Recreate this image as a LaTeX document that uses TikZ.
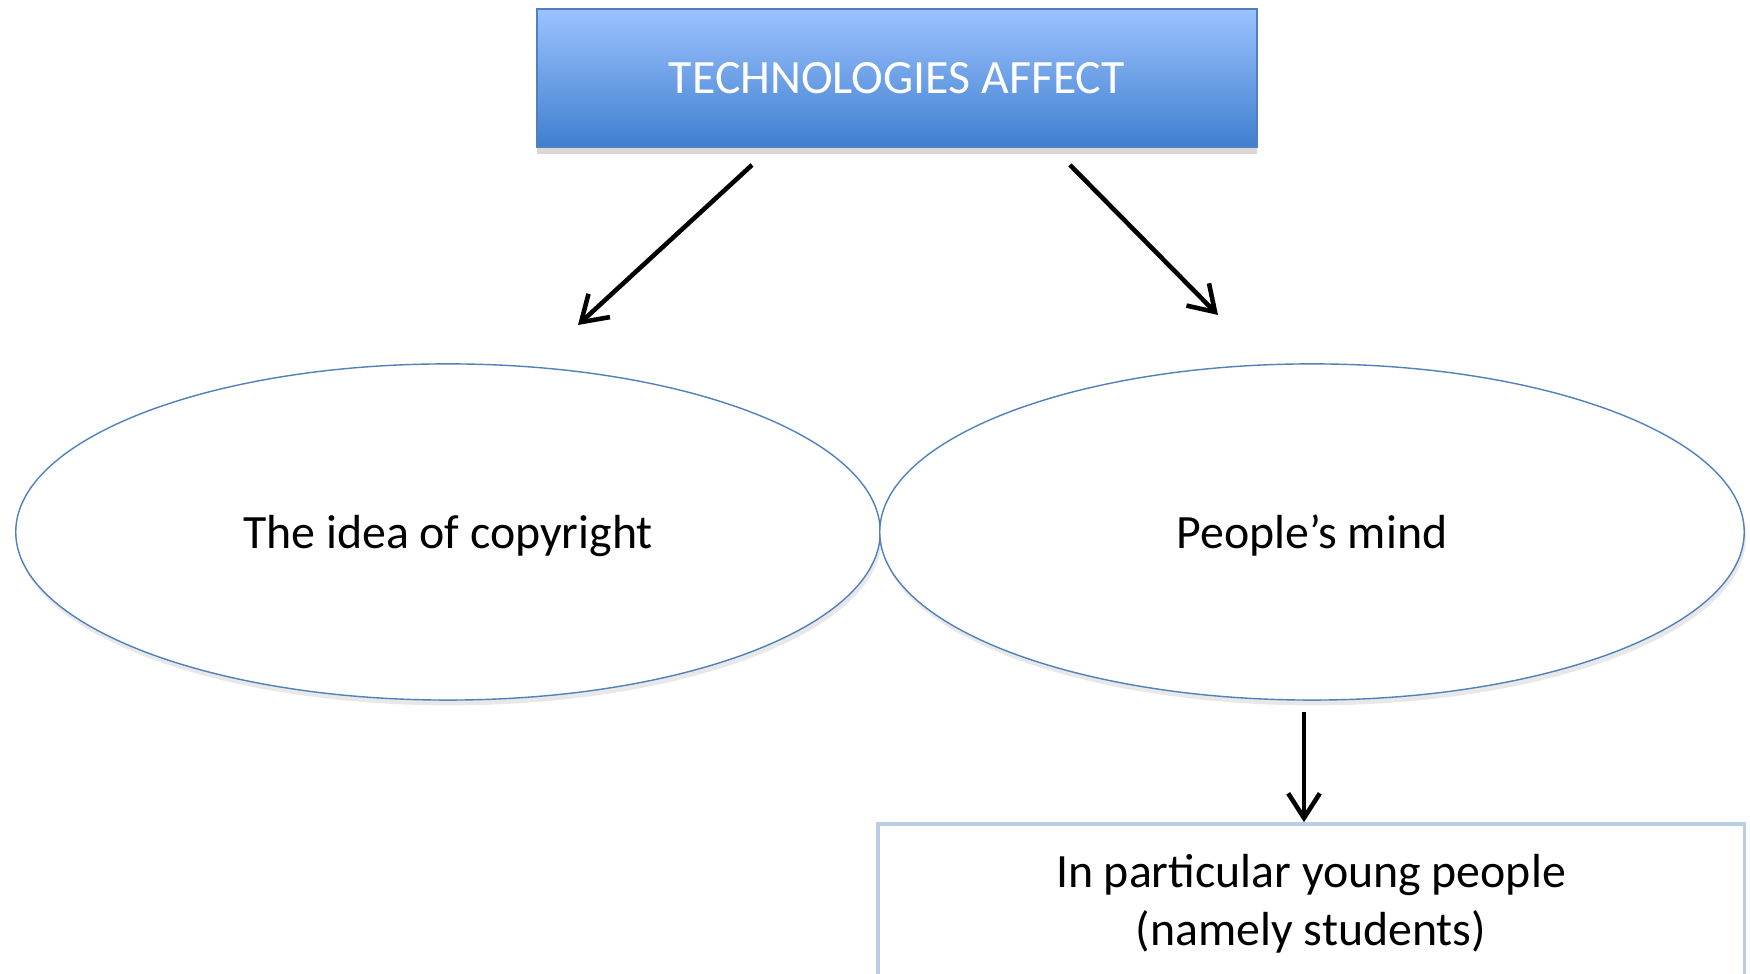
\documentclass[tikz,border=0pt]{standalone}
\usepackage{fontspec}
\setmainfont{Carlito}
\usetikzlibrary{arrows.meta,shadows,shapes.geometric}
\definecolor{boxtop}{HTML}{9CC2FF}
\definecolor{boxbot}{HTML}{3F7FCF}
\definecolor{edgeblue}{HTML}{4F81BD}
\definecolor{paleblue}{HTML}{B9CDE5}
\begin{document}
\begin{tikzpicture}[
        x=0.01cm, y=-0.01cm,
        font=\fontsize{13.6}{16.4}\selectfont,
        semithick,
        arrow/.style ={-{Straight Barb[length=7pt,width=9pt]}, line width=1.3pt, black},
        headbox/.style ={rectangle, draw=edgeblue, top color=boxtop, bottom color=boxbot, text=white,
            minimum width=7.2cm, minimum height=1.38cm, drop shadow={shadow xshift=0pt, shadow yshift=-2pt, fill=gray!60}},
        topic/.style ={ellipse, draw=edgeblue, fill=white, thin, minimum width=8.64cm, minimum height=3.36cm,
            text depth=-3pt, drop shadow={shadow xshift=0.5pt, shadow yshift=-1.5pt, fill=gray!35}},
        notebox/.style ={rectangle, draw=paleblue, fill=white, line width=1pt, align=center,
            minimum width=8.66cm, minimum height=1.6cm},
    ]
    \useasboundingbox (0,0) rectangle (1750,974);
    \node[headbox] (tech) at (897,78) {TECHNOLOGIES AFFECT};
    \node[topic] (copy) at (448,532) {The idea of copyright};
    \node[topic] (mind) at (1312,532) {People’s mind};
    \node[notebox] (young) at (1311,904) {In particular young people\\(namely students)};

    % free ends of the arrows
    \coordinate (l0) at (752,165);
    \coordinate (l1) at (578,325);
    \coordinate (r0) at (1070,165);
    \coordinate (r1) at (1218,315);
    \coordinate (d0) at (1304,712);

    \draw[arrow] (l0) -- (l1);
    \draw[arrow] (r0) -- (r1);
    \draw[arrow] (d0) -- (d0 |- young.north);
\end{tikzpicture}
\end{document}
